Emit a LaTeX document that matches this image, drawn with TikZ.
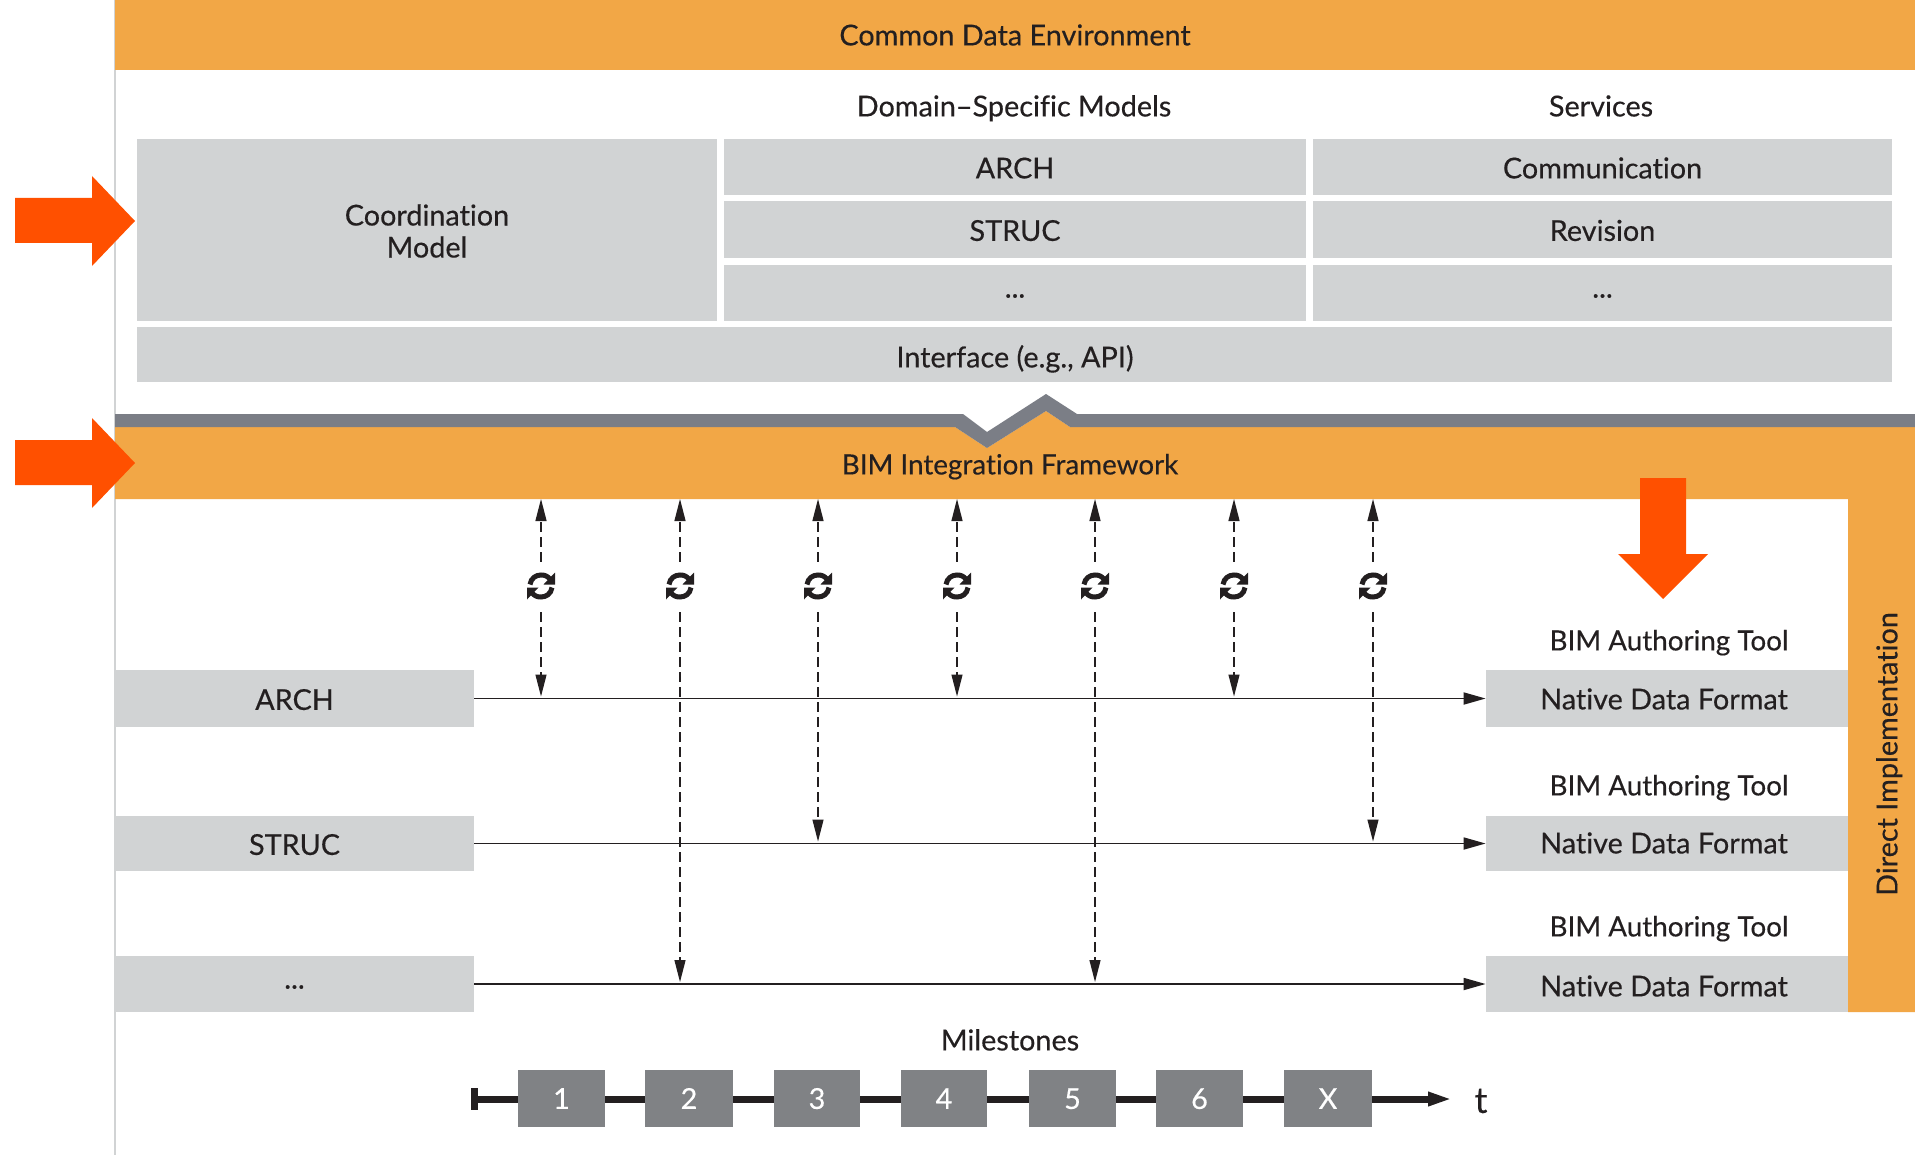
\documentclass[tikz,border=0pt]{standalone}
\usepackage{fontspec}
\setmainfont{Lato}[Ligatures=NoCommon,FakeBold=0.35]
\usetikzlibrary{arrows.meta}
\definecolor{bandorange}{HTML}{F2A746}
\definecolor{boxgrey}{HTML}{D1D3D4}
\definecolor{milegrey}{HTML}{808285}
\definecolor{zigzag}{HTML}{7B7E86}
\definecolor{hot}{HTML}{FF5000}
\definecolor{ink}{HTML}{231F20}
\tikzset{
  lab/.style={font=\fontsize{14.4}{16}\selectfont,text=ink,align=center,inner sep=0pt,text height=10.4pt,text depth=0pt},
  toollab/.style={lab,font=\fontsize{13.9}{16}\selectfont},
  block/.style={lab,fill=boxgrey,text height=11.4pt},
  orange block/.style={lab,fill=bandorange},
  milestone/.style={lab,fill=milegrey,text=white},
  dotted text/.style={text height=,text depth=,yshift=-1.5pt},
  syncbox/.style={inner sep=0pt,minimum width=14pt,minimum height=25pt},
  flowline/.style={draw=ink,line width=.9pt,-{Stealth[length=11pt,width=6pt,inset=0pt]}},
  syncline/.style={draw=ink,line width=.6pt,dash pattern=on 5pt off 2.5pt,-{Stealth[length=11pt,width=5.5pt,inset=0pt]}},
  hotarrow/.style={fill=hot,draw=none},
}
% name, style, x1, y1, x2, y2, text
\newcommand{\rectnode}[7]{\node[#2,minimum width={(#5-#3)*0.5pt},minimum height={(#6-#4)*0.5pt}] (#1) at ({(#3+#5)/2},{(#4+#6)/2}) {#7};}
\newcommand{\syncicon}[2]{%
  \node[syncbox] (#1) at (#2,587) {};
  \begin{scope}[shift={(#1.center)},x=.5pt,y=.5pt,yshift=.5pt]
    \draw[ink,line width=2.5pt] (-11,1.5) .. controls (-10,8) and (-5,11) .. (0,11) .. controls (4,11) and (6,10) .. (9,7);
    \fill[ink] (14,13.5) -- (14,1.5) -- (2.5,1.5) -- cycle;
    \draw[ink,line width=2.5pt] (11,-1.5) .. controls (10,-8) and (5,-11) .. (0,-11) .. controls (-4,-11) and (-6,-10) .. (-9,-7);
    \fill[ink] (-14,-13.5) -- (-14,-1.5) -- (-2.5,-1.5) -- cycle;
  \end{scope}}
\begin{document}
\begin{tikzpicture}[x=.5pt,y=-.5pt]
\useasboundingbox (0,0) rectangle (1915,1155);
\fill[white] (0,0) rectangle (1915,1155);
\draw[boxgrey,line width=.6pt] (115,0) -- (115,1155);

% Common data environment
\rectnode{cde}{orange block}{115}{0}{1915}{70}{Common Data Environment}
\node[lab] (hdrDomain) at (1014,106) {Domain–Specific Models};
\node[lab] (hdrServices) at (1601,106) {Services};
\rectnode{coord}{block}{137}{139}{717}{321}{}
\node[lab,text height=,text depth=] (coordText) at (427,231) {Coordination\\Model};
\rectnode{archM}{block}{724}{139}{1306}{195}{ARCH}
\rectnode{strucM}{block}{724}{201}{1306}{258}{STRUC}
\rectnode{moreM}{block}{724}{265}{1306}{321}{}
\node[lab,dotted text] (dotsM) at (moreM.center) {...};
\rectnode{comm}{block}{1313}{139}{1892}{195}{Communication}
\rectnode{revi}{block}{1313}{201}{1892}{258}{Revision}
\rectnode{moreS}{block}{1313}{265}{1892}{321}{}
\node[lab,dotted text] (dotsS) at (moreS.center) {...};
\rectnode{iface}{block}{137}{327}{1892}{382}{}
\node[lab] (ifaceText) at (1015,357) {Interface (e.g., API)};

% BIM integration framework band with the right-hand column
\fill[bandorange] (115,427) -- (955,427) -- (987,448) -- (1046,411) -- (1070,427) -- (1915,427)
  -- (1915,1012) -- (1848,1012) -- (1848,499) -- (115,499) -- cycle;
\fill[zigzag] (115,414) -- (963,414) -- (987,432) -- (1046,394) -- (1077,414) -- (1915,414)
  -- (1915,427) -- (1070,427) -- (1046,411) -- (987,448) -- (955,427) -- (115,427) -- cycle;
\node[toollab] (bif) at (1010,464) {BIM Integration Framework};
\coordinate (bifEdge) at (0,499);
\node[lab,rotate=90] (direct) at (1887,754) {Direct Implementation};

% Discipline rows
\rectnode{archL}{block}{115}{670}{474}{727}{ARCH}
\rectnode{strucL}{block}{115}{816}{474}{871}{STRUC}
\rectnode{moreL}{block}{115}{956}{474}{1012}{}
\node[lab,dotted text] (dotsL) at (moreL.center) {...};
\rectnode{natA}{block}{1486}{670}{1848}{727}{}
\rectnode{natB}{block}{1486}{816}{1848}{871}{}
\rectnode{natC}{block}{1486}{956}{1848}{1012}{}
\node[lab] (natTextA) at (1664,699) {Native Data Format};
\node[lab] (natTextB) at (1664,843) {Native Data Format};
\node[lab] (natTextC) at (1664,986) {Native Data Format};
\node[toollab] (toolA) at (1669,640) {BIM Authoring Tool};
\node[toollab] (toolB) at (1669,785) {BIM Authoring Tool};
\node[toollab] (toolC) at (1669,926) {BIM Authoring Tool};
\draw[flowline] (archL) -- (natA);
\draw[flowline] (strucL) -- (natB);
\draw[flowline] (moreL) -- (natC);

% Synchronisation connectors
\syncicon{s1}{541}
\syncicon{s2}{680}
\syncicon{s3}{818}
\syncicon{s4}{957}
\syncicon{s5}{1095}
\syncicon{s6}{1234}
\syncicon{s7}{1373}
\foreach \s in {s1,s2,s3,s4,s5,s6,s7}
  \draw[syncline] (\s) -- (\s |- bifEdge);
\draw[syncline,shorten >=1pt] (s1) -- (s1 |- archL.east);
\draw[syncline,shorten >=1pt] (s2) -- (s2 |- moreL.east);
\draw[syncline,shorten >=1pt] (s3) -- (s3 |- strucL.east);
\draw[syncline,shorten >=1pt] (s4) -- (s4 |- archL.east);
\draw[syncline,shorten >=1pt] (s5) -- (s5 |- moreL.east);
\draw[syncline,shorten >=1pt] (s6) -- (s6 |- archL.east);
\draw[syncline,shorten >=1pt] (s7) -- (s7 |- strucL.east);

% Milestones
\node[lab] (mile) at (1010,1040) {Milestones};
\coordinate (tStart) at (473,1099);
\coordinate (tEnd) at (1452,1099);
\node[lab,font=\fontsize{18}{20}\selectfont,text height=,text depth=] (tLabel) at (1481,1101) {t};
\draw[ink,line width=3.5pt,-{Stealth[length=12pt,width=6.5pt,inset=0pt]}] (tStart) -- (tEnd);
\draw[ink,line width=3.5pt] (474,1088) -- (474,1110);
\rectnode{m1}{milestone}{518}{1070}{605}{1127}{1}
\rectnode{m2}{milestone}{645}{1070}{733}{1127}{2}
\rectnode{m3}{milestone}{774}{1070}{860}{1127}{3}
\rectnode{m4}{milestone}{901}{1070}{987}{1127}{4}
\rectnode{m5}{milestone}{1029}{1070}{1116}{1127}{5}
\rectnode{m6}{milestone}{1156}{1070}{1243}{1127}{6}
\rectnode{m7}{milestone}{1284}{1070}{1372}{1127}{X}

% Highlight arrows
\fill[hotarrow] (15,198) -- (92,198) -- (92,176) -- (135,221) -- (92,266) -- (92,243) -- (15,243) -- cycle;
\fill[hotarrow] (15,440) -- (92,440) -- (92,418) -- (135,463) -- (92,508) -- (92,485) -- (15,485) -- cycle;
\fill[hotarrow] (1640,478) -- (1686,478) -- (1686,554) -- (1708,554) -- (1663,599) -- (1618,554) -- (1640,554) -- cycle;
\end{tikzpicture}
\end{document}
